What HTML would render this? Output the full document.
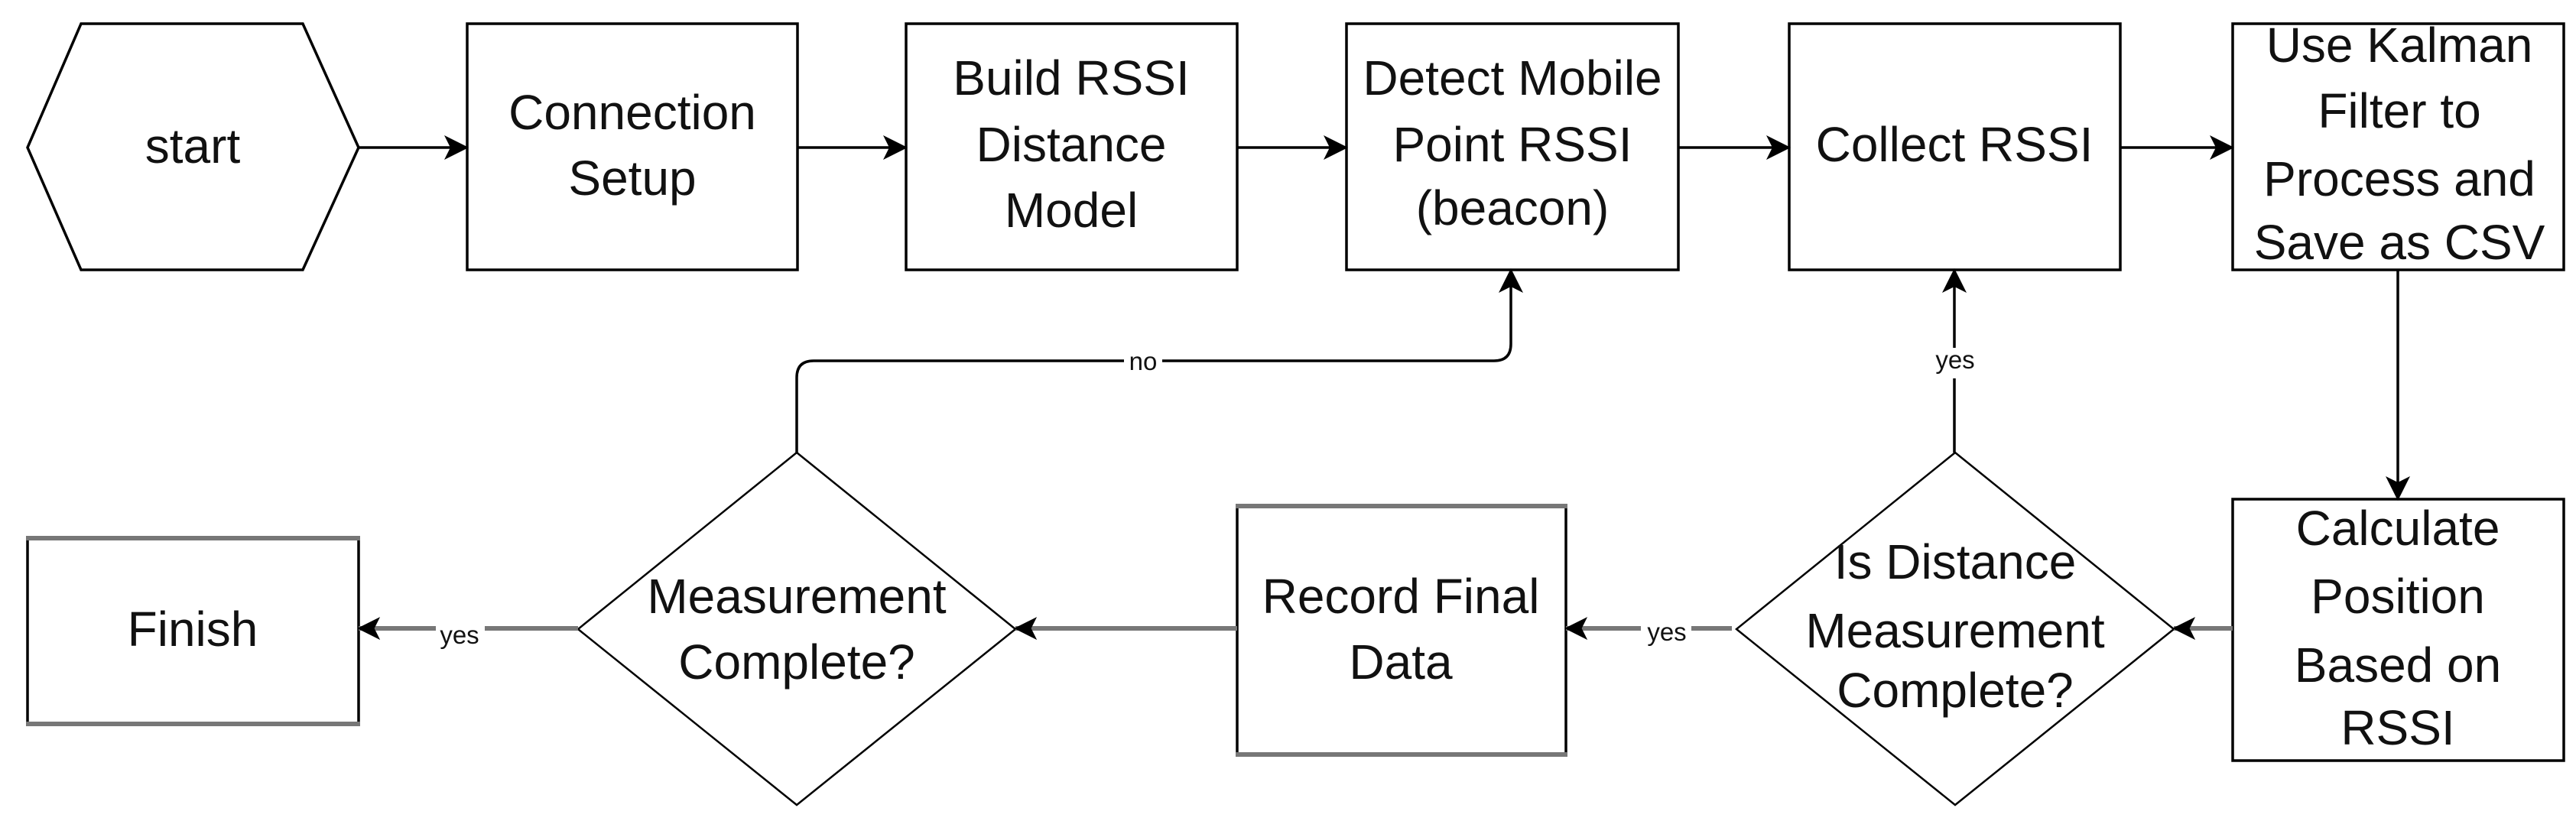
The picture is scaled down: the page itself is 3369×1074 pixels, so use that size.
<!DOCTYPE html>
<html><head><meta charset="utf-8"><style>
html,body{margin:0;padding:0;background:#fff;}
svg{display:block;}
text{font-family:"Liberation Sans",Arial,sans-serif;fill:#111;}
.t{font-size:64px;}
.s{font-size:33px;}
</style></head><body>
<svg width="3369" height="1074" viewBox="0 0 3369 1074" xmlns="http://www.w3.org/2000/svg">
<defs>
<marker id="a" viewBox="0 0 32 32" refX="30" refY="16" markerWidth="32" markerHeight="32" markerUnits="userSpaceOnUse" orient="auto">
<path d="M0,0 L32,16 L0,32 L8,16 Z" fill="#000"/></marker>
<marker id="g" viewBox="0 0 32 32" refX="30" refY="16" markerWidth="30" markerHeight="30" markerUnits="userSpaceOnUse" orient="auto">
<path d="M0,0 L32,16 L0,32 L8,16 Z" fill="#000"/></marker>
</defs>
<g fill="#fff" stroke="#000" stroke-width="3.5">
<polygon points="36,193 106,31 396,31 469,193 396,353 106,353"/>
<rect x="611" y="31" width="432" height="322"/>
<rect x="1185" y="31" width="433" height="322"/>
<rect x="1761" y="31" width="434" height="322"/>
<rect x="2340" y="31" width="433" height="322"/>
<rect x="2920" y="31" width="433" height="322"/>
<rect x="2920" y="653" width="433" height="342"/>
<polygon points="1042,592 1328,823 1042,1053 756,823" stroke-width="2.5"/>
<polygon points="2557,592 2843,823 2557,1053 2271,823" stroke-width="2.5"/>
</g>
<!-- gray-bordered boxes -->
<g stroke-width="3.5">
<rect x="36" y="704" width="433" height="243" fill="#fff" stroke="none"/>
<line x1="36" y1="704" x2="36" y2="947" stroke="#000"/>
<line x1="469" y1="704" x2="469" y2="947" stroke="#000"/>
<line x1="34" y1="704" x2="471" y2="704" stroke="#777" stroke-width="6"/>
<line x1="34" y1="947" x2="471" y2="947" stroke="#777" stroke-width="6"/>
<line x1="1618" y1="662" x2="1618" y2="987" stroke="#000"/>
<line x1="2048" y1="662" x2="2048" y2="987" stroke="#000"/>
<line x1="1616" y1="662" x2="2050" y2="662" stroke="#777" stroke-width="6"/>
<line x1="1616" y1="987" x2="2050" y2="987" stroke="#777" stroke-width="6"/>
</g>
<!-- top arrows -->
<g stroke="#000" stroke-width="3.5" fill="none" marker-end="url(#a)">
<line x1="469" y1="193" x2="611" y2="193"/>
<line x1="1043" y1="193" x2="1185" y2="193"/>
<line x1="1618" y1="193" x2="1761" y2="193"/>
<line x1="2195" y1="193" x2="2340" y2="193"/>
<line x1="2773" y1="193" x2="2920" y2="193"/>
<line x1="3136" y1="353" x2="3136" y2="653"/>
<line x1="2556" y1="592" x2="2556" y2="353"/>
<path d="M1042,592 L1042,494 Q1042,472 1064,472 L1954,472 Q1976,472 1976,450 L1976,353"/>
</g>
<!-- gray arrows -->
<g stroke="#777" stroke-width="6" fill="none" marker-end="url(#g)">
<line x1="2920" y1="822" x2="2843" y2="822"/>
<line x1="2265" y1="822" x2="2048" y2="822"/>
<line x1="1618" y1="822" x2="1328" y2="822"/>
<line x1="756" y1="822" x2="469" y2="822"/>
</g>
<!-- labels -->
<g fill="#fff">
<rect x="1470" y="455" width="50" height="36"/>
<rect x="2524" y="455" width="66" height="40"/>
<rect x="2146" y="805" width="66" height="40"/>
<rect x="570" y="808" width="64" height="40"/>
</g>
<g class="s" text-anchor="middle">
<text x="1495" y="484">no</text>
<text x="2557" y="482">yes</text>
<text x="2180" y="838">yes</text>
<text x="601" y="842">yes</text>
</g>
<g class="t" text-anchor="middle">
<text x="252" y="213">start</text>
<text x="827" y="169">Connection</text>
<text x="827" y="255">Setup</text>
<text x="1401" y="124">Build RSSI</text>
<text x="1401" y="211">Distance</text>
<text x="1401" y="297">Model</text>
<text x="1978" y="124">Detect Mobile</text>
<text x="1978" y="211">Point RSSI</text>
<text x="1978" y="294">(beacon)</text>
<text x="2556" y="211">Collect RSSI</text>
<text x="3138" y="81">Use Kalman</text>
<text x="3138" y="167">Filter to</text>
<text x="3138" y="256">Process and</text>
<text x="3138" y="339">Save as CSV</text>
<text x="3136" y="713">Calculate</text>
<text x="3136" y="802">Position</text>
<text x="3136" y="892">Based on</text>
<text x="3136" y="974">RSSI</text>
<text x="2557" y="757">Is Distance</text>
<text x="2557" y="847">Measurement</text>
<text x="2557" y="925">Complete?</text>
<text x="1832" y="802">Record Final</text>
<text x="1832" y="888">Data</text>
<text x="1042" y="802">Measurement</text>
<text x="1042" y="888">Complete?</text>
<text x="252" y="845">Finish</text>
</g>
</svg>
</body></html>
